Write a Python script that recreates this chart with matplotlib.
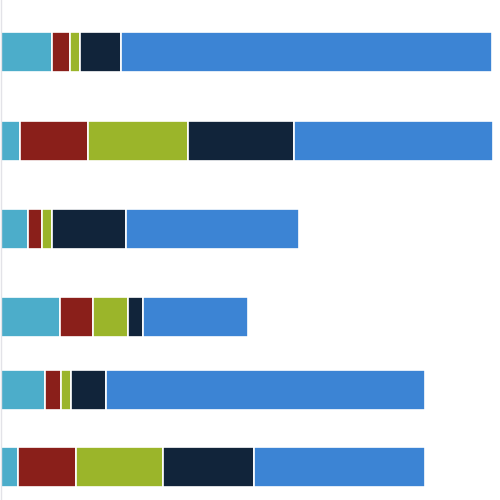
import matplotlib
matplotlib.use("Agg")
import matplotlib.pyplot as plt
import numpy as np

# Categories (top to bottom) and segment values
categories = ["A", "B", "C", "D", "E", "F"]
seg_cyan = [51, 19, 27, 59, 44, 17]
seg_red = [18, 68, 14, 33, 16, 58]
seg_green = [10, 100, 10, 35, 10, 87]
seg_navy = [41, 106, 74, 15, 35, 91]
seg_blue = [371, 199, 173, 105, 319, 171]

series = [seg_cyan, seg_red, seg_green, seg_navy, seg_blue]
colors = ["#4cadca", "#8a1f1a", "#9bb52a", "#11243a", "#3c84d4"]

# vertical layout of the bars (the original spacing is uneven)
y_pos = [52, 141, 229, 317, 390, 467]

fig = plt.figure(figsize=(5, 5), dpi=100)
ax = fig.add_axes([0.002, 0, 0.998, 1])

left = np.zeros(len(categories))
for vals, col in zip(series, colors):
    ax.barh(y_pos, vals, left=left, height=40, color=col,
            edgecolor="white", linewidth=1.2)
    left += np.array(vals)

ax.set_xlim(0, 499)
ax.set_ylim(500, 0)
ax.set_xticks([])
ax.set_yticks([])
for s in ["top", "right", "bottom"]:
    ax.spines[s].set_visible(False)
ax.spines["left"].set_color("#e3e3e8")
ax.spines["left"].set_linewidth(1)

fig.savefig("out.png", dpi=100)
